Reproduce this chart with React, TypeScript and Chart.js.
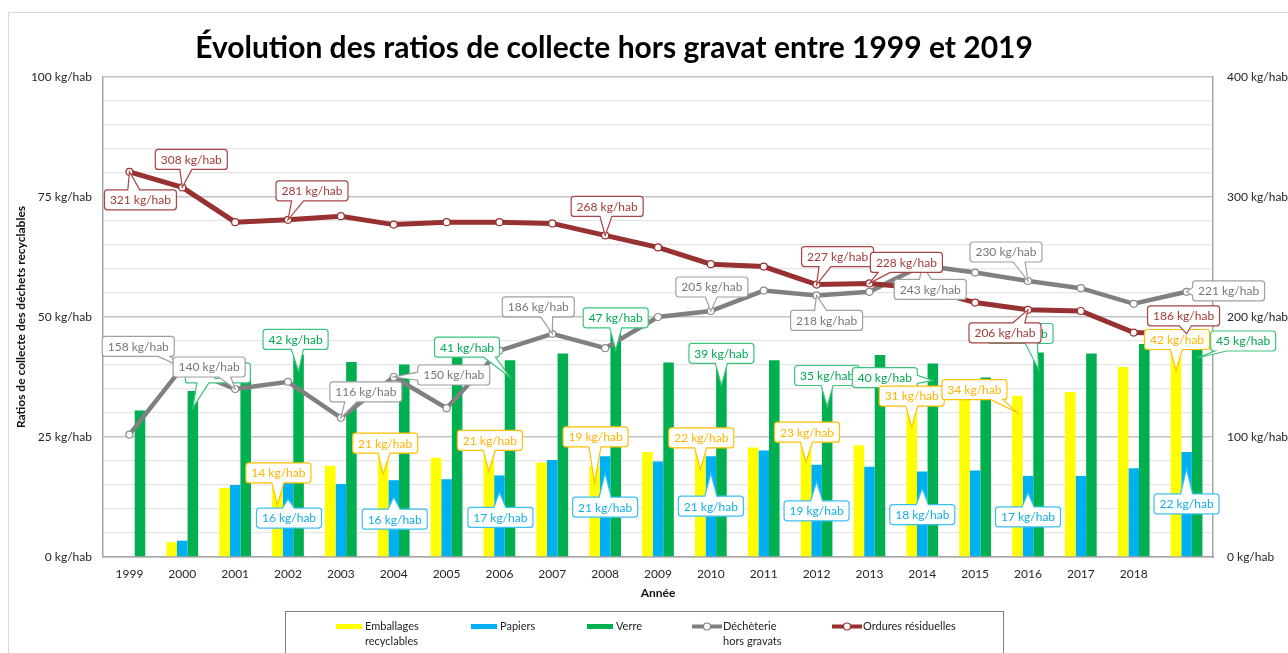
import { useEffect, useRef } from "react";
import { Chart, registerables } from "chart.js";

Chart.register(...registerables);

// ---------- data ----------
const years = ["1999","2000","2001","2002","2003","2004","2005","2006","2007","2008","2009","2010","2011","2012","2013","2014","2015","2016","2017","2018",""];
const emballages = [null, 3.1, 14.4, 14.4, 19.0, 20.8, 20.7, 21.4, 19.7, 19.0, 21.9, 21.7, 22.8, 23.3, 23.3, 30.6, 34.0, 33.6, 34.4, 39.6, 42.4];
const papiers = [null, 3.4, 15.0, 15.6, 15.2, 16.0, 16.2, 17.0, 20.2, 21.0, 19.9, 21.0, 22.2, 19.2, 18.8, 17.8, 18.0, 16.9, 16.9, 18.5, 21.9];
const verre = [30.5, 34.6, 38.5, 42.2, 40.6, 40.1, 42.0, 41.0, 42.4, 46.7, 40.5, 39.3, 41.0, 34.9, 42.1, 40.3, 37.4, 42.6, 42.4, 44.4, 45.0];
const decheterie = [102, 158, 140, 146, 116, 150, 124, 172, 186, 174, 200, 205, 222, 218, 221, 243, 237, 230, 224, 211, 221];
const ordures = [321, 308, 279, 281, 284, 277, 279, 279, 278, 268, 258, 244, 242, 227, 228, 224, 212, 206, 205, 187, 186];
const leftTicks = [0, 25, 50, 75, 100];
const rightTicks = [0, 100, 200, 300, 400];

const TITLE = "Évolution des ratios de collecte hors gravat entre 1999 et 2019";
const Y_TITLE = "Ratios de collecte des déchets recyclables";
const X_TITLE = "Année";
const UNIT = " kg/hab";

// ---------- styles ----------
const C_YELLOW = "#ffff00";
const C_BLUE = "#00b0f0";
const C_GREEN = "#00b050";
const C_GRAY = "#808080";
const C_RED = "#983232";
const FONT = "Lato, 'Open Sans', sans-serif";

const DS_INDEX: Record<string, number> = { emballages: 0, papiers: 1, verre: 2, decheterie: 3, ordures: 4 };
const LABEL_STYLE: Record<string, { text: string; border: string }> = {
  verre: { text: "#00a84f", border: "#3cc47c" },
  emballages: { text: "#ffb400", border: "#ffc000" },
  papiers: { text: "#13aee8", border: "#3cc0f0" },
  decheterie: { text: "#777777", border: "#a0a0a0" },
  ordures: { text: "#a23a3a", border: "#a84444" },
};

// callout placement: offset (px) of box centre from anchor
const CALLOUTS = [
  { s: "verre", i: 1, dx: 25, dy: -35 },
  { s: "verre", i: 3, dx: -3, dy: -32 },
  { s: "verre", i: 7, dx: -43, dy: -30 },
  { s: "verre", i: 9, dx: 0, dy: -32 },
  { s: "verre", i: 11, dx: 0, dy: -32 },
  { s: "verre", i: 13, dx: 0, dy: -31 },
  { s: "verre", i: 15, dx: -48, dy: -3 },
  { s: "verre", i: 17, dx: -18, dy: -36 },
  { s: "verre", i: 20, dx: 46, dy: -17 },
  { s: "emballages", i: 3, dx: 1, dy: -32 },
  { s: "emballages", i: 5, dx: 2, dy: -31 },
  { s: "emballages", i: 7, dx: 1, dy: -31 },
  { s: "emballages", i: 9, dx: 1, dy: -46 },
  { s: "emballages", i: 11, dx: 1, dy: -32 },
  { s: "emballages", i: 13, dx: 1, dy: -30 },
  { s: "emballages", i: 15, dx: 0, dy: -31 },
  { s: "emballages", i: 17, dx: -43, dy: -23 },
  { s: "emballages", i: 20, dx: 1, dy: -31 },
  { s: "papiers", i: 3, dx: 1, dy: 19 },
  { s: "papiers", i: 5, dx: 1, dy: 22 },
  { s: "papiers", i: 7, dx: 1, dy: 25 },
  { s: "papiers", i: 9, dx: 0, dy: 34 },
  { s: "papiers", i: 11, dx: 0, dy: 33 },
  { s: "papiers", i: 13, dx: 0, dy: 29 },
  { s: "papiers", i: 15, dx: 0, dy: 26 },
  { s: "papiers", i: 17, dx: 0, dy: 24 },
  { s: "papiers", i: 20, dx: 0, dy: 35 },
  { s: "decheterie", i: 1, dx: -44, dy: -21 },
  { s: "decheterie", i: 2, dx: -26, dy: -22 },
  { s: "decheterie", i: 4, dx: 25, dy: -26 },
  { s: "decheterie", i: 5, dx: 60, dy: -2 },
  { s: "decheterie", i: 8, dx: -14, dy: -27 },
  { s: "decheterie", i: 11, dx: 1, dy: -24 },
  { s: "decheterie", i: 13, dx: 10, dy: 25 },
  { s: "decheterie", i: 15, dx: 8, dy: 24 },
  { s: "decheterie", i: 17, dx: -22, dy: -29 },
  { s: "decheterie", i: 20, dx: 42, dy: -1 },
  { s: "ordures", i: 0, dx: 11, dy: 28 },
  { s: "ordures", i: 1, dx: 9, dy: -28 },
  { s: "ordures", i: 3, dx: 24, dy: -29 },
  { s: "ordures", i: 9, dx: 2, dy: -29 },
  { s: "ordures", i: 13, dx: 21, dy: -28 },
  { s: "ordures", i: 14, dx: 37, dy: -21 },
  { s: "ordures", i: 17, dx: -23, dy: 23 },
  { s: "ordures", i: 20, dx: -3, dy: -18 },
];

function clamp(v: number, a: number, b: number) {
  return Math.max(a, Math.min(b, v));
}

function calloutPath(ctx: CanvasRenderingContext2D, l: number, t: number, w: number, h: number, rad: number, side: string, b1: number, b2: number, tx: number, ty: number) {
  const r = l + w, b = t + h;
  ctx.beginPath();
  ctx.moveTo(l + rad, t);
  if (side === "top") { ctx.lineTo(b1, t); ctx.lineTo(tx, ty); ctx.lineTo(b2, t); }
  ctx.lineTo(r - rad, t);
  ctx.arcTo(r, t, r, t + rad, rad);
  if (side === "right") { ctx.lineTo(r, b1); ctx.lineTo(tx, ty); ctx.lineTo(r, b2); }
  ctx.lineTo(r, b - rad);
  ctx.arcTo(r, b, r - rad, b, rad);
  if (side === "bottom") { ctx.lineTo(b2, b); ctx.lineTo(tx, ty); ctx.lineTo(b1, b); }
  ctx.lineTo(l + rad, b);
  ctx.arcTo(l, b, l, b - rad, rad);
  if (side === "left") { ctx.lineTo(l, b2); ctx.lineTo(tx, ty); ctx.lineTo(l, b1); }
  ctx.lineTo(l, t + rad);
  ctx.arcTo(l, t, l + rad, t, rad);
  ctx.closePath();
}

const calloutPlugin = {
  id: "callouts",
  afterDatasetsDraw(chart: any) {
    const ctx: CanvasRenderingContext2D = chart.ctx;
    ctx.save();
    ctx.font = `12px ${FONT}`;
    ctx.textAlign = "center";
    ctx.textBaseline = "middle";
    for (const c of CALLOUTS) {
      const di = DS_INDEX[c.s];
      const meta = chart.getDatasetMeta(di);
      const el = meta.data[c.i];
      const value = chart.data.datasets[di].data[c.i];
      if (!el || value == null) continue;
      let tx = el.x, ty = el.y;
      if (meta.type === "bar") ty = Math.min(el.y + 17, el.base);
      const text = `${Math.round(value)}${UNIT}`;
      const w = Math.round(ctx.measureText(text).width + 11);
      const h = 20;
      const cx = tx + c.dx, cy = ty + c.dy;
      const l = cx - w / 2, t = cy - h / 2;
      const rad = 3;
      let side = "right";
      if (ty < t) side = "top";
      else if (ty > t + h) side = "bottom";
      else if (tx < l) side = "left";
      let b1 = 0, b2 = 0;
      if (side === "top" || side === "bottom") {
        const bx = clamp(cx + (tx - cx) * 0.6, l + rad + 7, l + w - rad - 7);
        b1 = bx - 6; b2 = bx + 6;
      } else {
        const by = clamp(cy + (ty - cy) * 0.6, t + rad + 4, t + h - rad - 4);
        b1 = by - 4; b2 = by + 4;
      }
      const st = LABEL_STYLE[c.s];
      calloutPath(ctx, l, t, w, h, rad, side, b1, b2, tx, ty);
      ctx.fillStyle = "#ffffff";
      ctx.fill();
      ctx.lineWidth = 1.2;
      ctx.strokeStyle = st.border;
      ctx.stroke();
      ctx.fillStyle = st.text;
      ctx.fillText(text, cx, cy + 0.5);
    }
    ctx.restore();
  },
};

const decorPlugin = {
  id: "decor",
  afterDraw(chart: any) {
    const ctx: CanvasRenderingContext2D = chart.ctx;
    const area = chart.chartArea;
    ctx.save();
    // outer frame
    ctx.strokeStyle = "#d9d9d9";
    ctx.lineWidth = 1;
    ctx.beginPath();
    ctx.moveTo(8.5, 700);
    ctx.lineTo(8.5, 12.5);
    ctx.lineTo(1300, 12.5);
    ctx.stroke();

    // title
    ctx.fillStyle = "#000000";
    ctx.textAlign = "center";
    ctx.textBaseline = "alphabetic";
    ctx.font = `bold 28px ${FONT}`;
    const tw = ctx.measureText(TITLE).width;
    const size = Math.min(30, 28 * 837 / tw);
    ctx.font = `bold ${size.toFixed(1)}px ${FONT}`;
    ctx.fillText(TITLE, 614, 58);

    // axis titles
    ctx.font = `bold 12px ${FONT}`;
    ctx.textBaseline = "middle";
    ctx.fillStyle = "#111111";
    ctx.fillText(X_TITLE, (area.left + area.right) / 2, 593);
    ctx.save();
    ctx.translate(21, (area.top + area.bottom) / 2);
    ctx.rotate(-Math.PI / 2);
    ctx.fillText(Y_TITLE, 0, 0);
    ctx.restore();

    // legend
    ctx.strokeStyle = "#7f7f7f";
    ctx.lineWidth = 1;
    ctx.strokeRect(285.5, 611.5, 718, 100);
    ctx.font = `11px ${FONT}`;
    ctx.textAlign = "left";
    const items = [
      { x: 336, lines: ["Emballages", "recyclables"], color: C_YELLOW, type: "bar" },
      { x: 471, lines: ["Papiers"], color: C_BLUE, type: "bar" },
      { x: 587, lines: ["Verre"], color: C_GREEN, type: "bar" },
      { x: 692, lines: ["Déchèterie", "hors gravats"], color: C_GRAY, type: "line" },
      { x: 832, lines: ["Ordures résiduelles"], color: C_RED, type: "line" },
    ];
    const ly = 626.5;
    for (const it of items) {
      if (it.type === "bar") {
        ctx.fillStyle = it.color;
        ctx.fillRect(it.x, ly - 2.5, 26, 5);
      } else {
        ctx.strokeStyle = it.color;
        ctx.lineWidth = 4;
        ctx.beginPath();
        ctx.moveTo(it.x, ly);
        ctx.lineTo(it.x + 30, ly);
        ctx.stroke();
        ctx.beginPath();
        ctx.arc(it.x + 15, ly, 3.5, 0, Math.PI * 2);
        ctx.fillStyle = "#ffffff";
        ctx.fill();
        ctx.lineWidth = 1.2;
        ctx.stroke();
      }
      ctx.fillStyle = "#222222";
      it.lines.forEach((s, k) => ctx.fillText(s, it.x + (it.type === "bar" ? 29 : 31), ly + k * 15));
    }
    ctx.restore();
  },
};

export default function App() {
  const ref = useRef<HTMLCanvasElement | null>(null);
  useEffect(() => {
    if (!ref.current) return;
    const tickFont = { family: FONT, size: 12 };
    const chart = new Chart(ref.current, {
      type: "bar",
      data: {
        labels: years,
        datasets: [
          { type: "bar", label: "Emballages recyclables", data: emballages, backgroundColor: C_YELLOW, yAxisID: "y", order: 2, categoryPercentage: 0.6, barPercentage: 1.0 },
          { type: "bar", label: "Papiers", data: papiers, backgroundColor: C_BLUE, yAxisID: "y", order: 2, categoryPercentage: 0.6, barPercentage: 1.0 },
          { type: "bar", label: "Verre", data: verre, backgroundColor: C_GREEN, yAxisID: "y", order: 2, categoryPercentage: 0.6, barPercentage: 1.0 },
          { type: "line", label: "Déchèterie hors gravats", data: decheterie, borderColor: C_GRAY, borderWidth: 4.5, pointRadius: 3.5, pointBackgroundColor: "#ffffff", pointBorderColor: "#8c8c8c", pointBorderWidth: 1.2, yAxisID: "y2", order: 1, tension: 0 },
          { type: "line", label: "Ordures résiduelles", data: ordures, borderColor: C_RED, borderWidth: 5, pointRadius: 3.5, pointBackgroundColor: "#ffffff", pointBorderColor: C_RED, pointBorderWidth: 1.2, yAxisID: "y2", order: 0, tension: 0 },
        ] as any,
      },
      options: {
        animation: false,
        responsive: false,
        layout: { padding: { top: 77, left: 0, right: 0, bottom: 0 } },
        plugins: { legend: { display: false }, title: { display: false }, tooltip: { enabled: false } },
        scales: {
          x: {
            offset: true,
            grid: { display: true, drawOnChartArea: false, drawTicks: false },
            border: { display: true, color: "#a6a6a6", width: 1.5 },
            ticks: { font: tickFont, color: "#262626", padding: 10, autoSkip: false, maxRotation: 0 },
            afterFit: (s: any) => { s.height = 96; },
          },
          y: {
            position: "left",
            min: 0,
            max: 100,
            afterBuildTicks: (s: any) => {
              const t = [];
              for (let v = 0; v <= 100; v += 5) t.push({ value: v });
              s.ticks = t;
            },
            ticks: {
              font: tickFont,
              color: "#262626",
              padding: 11,
              callback: (v: any) => (leftTicks.includes(Number(v)) ? `${v}${UNIT}` : ""),
            },
            grid: {
              drawTicks: false,
              color: (c: any) => (c.tick && leftTicks.includes(c.tick.value) ? "#c4c4c4" : "#e6e6e6"),
              lineWidth: (c: any) => (c.tick && leftTicks.includes(c.tick.value) ? 1.5 : 1.2),
            },
            border: { display: true, color: "#a6a6a6", width: 1.5 },
            afterFit: (s: any) => { s.width = 103; },
          },
          y2: {
            position: "right",
            min: 0,
            max: 400,
            afterBuildTicks: (s: any) => { s.ticks = rightTicks.map((v) => ({ value: v })); },
            ticks: { font: tickFont, color: "#262626", padding: 14, callback: (v: any) => `${v}${UNIT}` },
            grid: { drawOnChartArea: false, drawTicks: false },
            border: { display: true, color: "#a6a6a6", width: 1.5 },
            afterFit: (s: any) => { s.width = 75; },
          },
        },
      } as any,
      plugins: [calloutPlugin, decorPlugin],
    });
    return () => chart.destroy();
  }, []);
  return (
    <div style={{ position: "fixed", left: 0, top: 0, width: 1288, height: 653, background: "#ffffff" }}>
      <canvas ref={ref} width={1288} height={653} style={{ width: 1288, height: 653, display: "block" }} />
    </div>
  );
}
